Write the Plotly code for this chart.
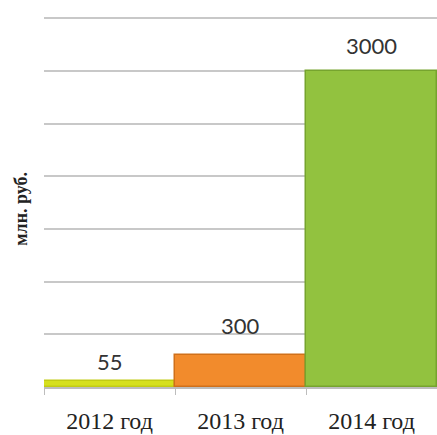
import plotly.graph_objects as go

categories = ["2012 год", "2013 год", "2014 год"]
values = [55, 300, 3000]
labels = ["55", "300", "3000"]
colors = ["#d6e01e", "#f28b2c", "#92c23f"]
edge_colors = ["#c2cc14", "#d0701a", "#76a42e"]
label_shift = [20, 30, 25]

fig = go.Figure(go.Bar(
    x=categories, y=values,
    marker=dict(color=colors, line=dict(color=edge_colors, width=1.5)),
    hoverinfo="x+y",
))

annotations = [
    dict(x=c, y=v, text=t, xref="x", yref="y", showarrow=False,
         yanchor="middle", yshift=s,
         font=dict(family="Lato", size=22, color="#333333"))
    for c, v, t, s in zip(categories, values, labels, label_shift)
]
annotations.append(dict(
    text="<b>млн. руб.</b>", xref="paper", yref="paper", x=-0.059, y=0.48,
    xanchor="center", yanchor="middle",
    textangle=-90, showarrow=False,
    font=dict(family="Liberation Serif, serif", size=18, color="#222222"),
))

fig.update_layout(
    width=437, height=435,
    margin=dict(l=44, r=0, t=16, b=48),
    paper_bgcolor="white", plot_bgcolor="white",
    bargap=0, showlegend=False,
    xaxis=dict(
        showline=True, linecolor="#bdbdbd", linewidth=1.5,
        ticks="outside", tickson="boundaries", ticklen=6, tickcolor="#bdbdbd",
        tickfont=dict(family="Liberation Serif, serif", size=24, color="#222222"),
        ticklabelstandoff=11,
    ),
    yaxis=dict(
        range=[0, 3520], dtick=500, showticklabels=False,
        showgrid=True, gridcolor="#c8c8c8", gridwidth=1.5,
        zeroline=False,
    ),
    annotations=annotations,
)

fig.write_html("out.html")
